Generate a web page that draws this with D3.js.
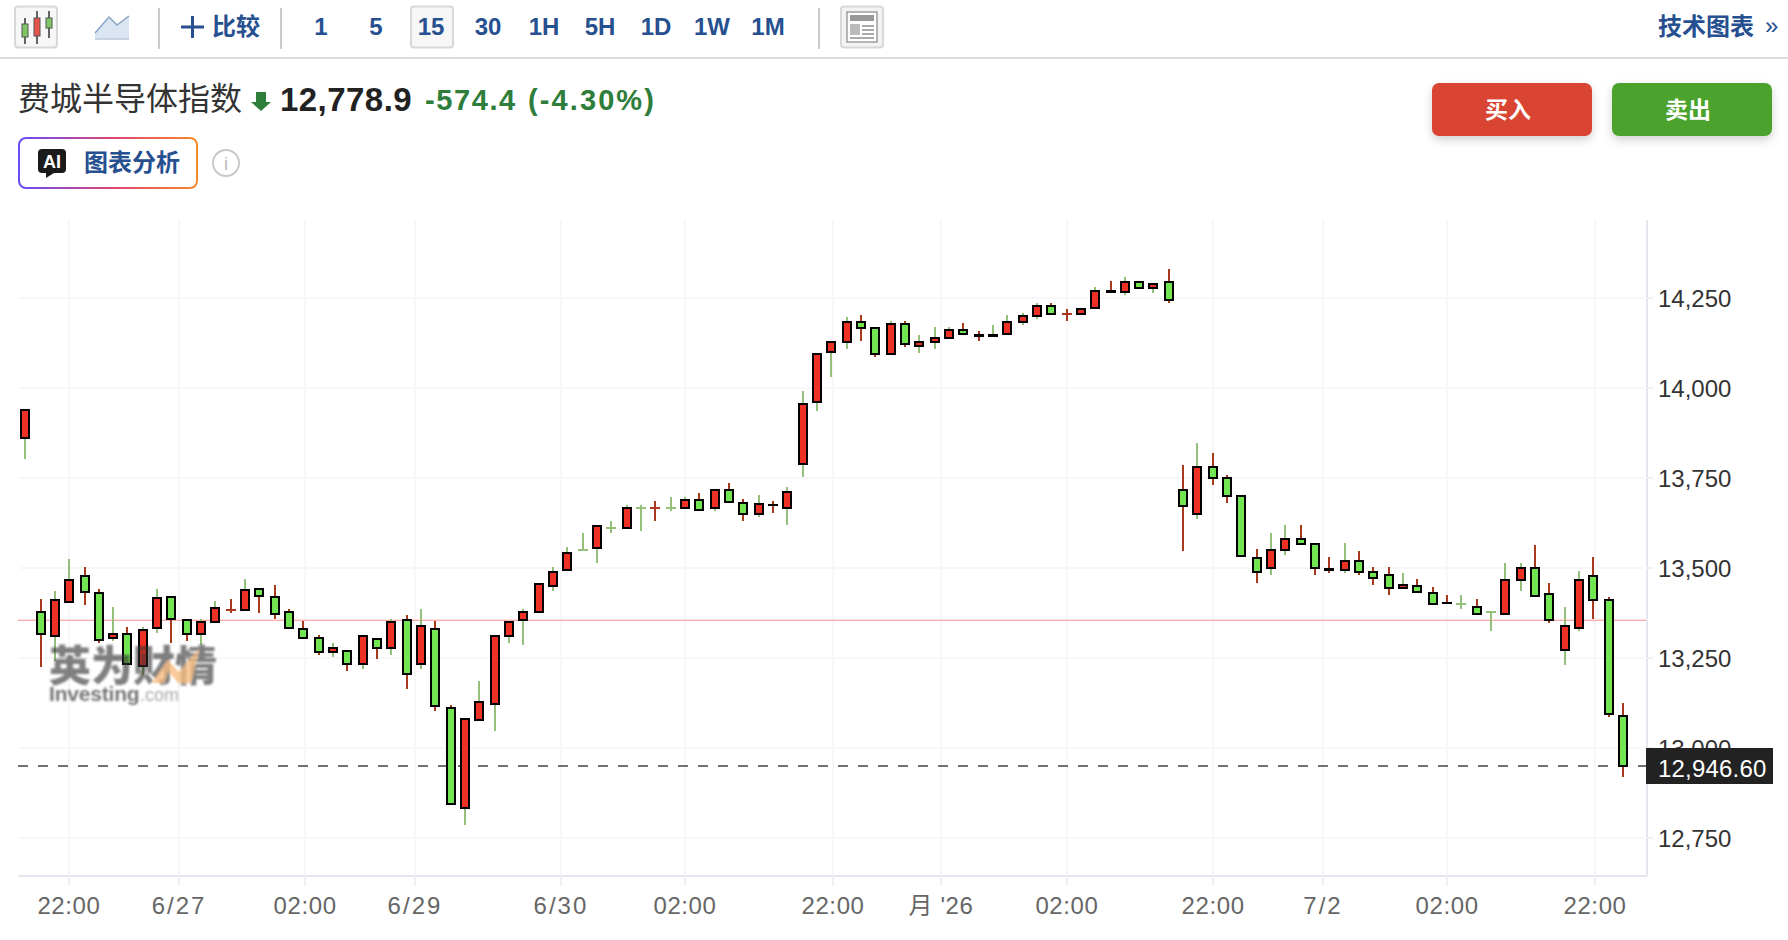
<!DOCTYPE html>
<html>
<head>
<meta charset="utf-8">
<title>费城半导体指数</title>
<script src="https://d3js.org/d3.v7.min.js"></script>
<style>
  html, body { margin: 0; padding: 0; background: #fff; }
  svg { display: block; }
  text { font-family: "Liberation Sans", "Noto Sans CJK SC", sans-serif; }
  .cjk { font-family: "Noto Sans CJK SC", sans-serif; }
  .axis path.domain { stroke: #e4e8ee; stroke-width: 2; }
  .axis .tick line { stroke: #eef0f3; stroke-width: 2; shape-rendering: crispEdges; }
  .grid line { stroke: #f7f7f7; stroke-width: 2; shape-rendering: crispEdges; }
  .grid path { display: none; }
</style>
</head>
<body>
<svg id="chart" width="1788" height="940"></svg>
<script>
// candles (red body = close above open, green = below)
var opens = [13861,13376,13311,13405,13476,13431,13305,13315,13227,13333,13420,13354,13317,13350,13382,13383,13442,13420,13376,13331,
  13304,13266,13270,13233,13303,13277,13354,13233,13331,13109,12833,13078,13122,13311,13355,13378,13450,13494,13549,13555,
  13610,13611,13666,13666,13666,13666,13687,13666,13715,13681,13650,13673,13666,13789,13961,14100,14128,14182,14165,14094,
  14176,14117,14128,14139,14159,14145,14145,14150,14183,14200,14226,14205,14206,14222,14267,14267,14293,14278,14293,13715,
  13650,13781,13748,13698,13526,13500,13550,13581,13565,13495,13494,13520,13487,13481,13444,13448,13431,13401,13399,13392,
  13377,13372,13467,13498,13426,13272,13333,13476,13409,13087];
var closes = [13937,13317,13409,13465,13433,13300,13315,13233,13326,13415,13357,13317,13348,13387,13382,13437,13422,13372,13333,13305,
  13266,13276,13233,13309,13277,13348,13205,13337,13117,12844,13081,13126,13309,13348,13376,13454,13487,13542,13549,13615,
  13610,13665,13666,13666,13666,13687,13661,13715,13683,13650,13676,13675,13709,13954,14093,14126,14182,14167,14094,14176,
  14122,14126,14137,14159,14150,14147,14147,14182,14198,14226,14206,14205,14220,14270,14269,14293,14278,14287,14244,13672,
  13781,13750,13700,13533,13489,13548,13581,13566,13500,13497,13520,13489,13472,13444,13453,13433,13400,13403,13399,13372,
  13377,13465,13498,13422,13356,13337,13465,13411,13094,12950];
var highs = [13937,13413,13435,13524,13502,13441,13391,13335,13335,13441,13420,13354,13357,13407,13413,13468,13442,13451,13385,13352,
  13313,13290,13270,13309,13303,13357,13368,13385,13352,13118,13081,13185,13309,13348,13385,13454,13502,13557,13596,13615,
  13629,13674,13674,13685,13696,13696,13707,13715,13735,13691,13702,13685,13724,13991,14093,14126,14196,14202,14165,14185,
  14185,14146,14169,14169,14180,14157,14174,14202,14207,14235,14235,14219,14220,14280,14296,14307,14293,14287,14330,13785,
  13846,13818,13757,13698,13552,13596,13618,13618,13565,13529,13568,13546,13502,13502,13485,13468,13446,13424,13424,13413,
  13377,13513,13513,13563,13457,13391,13491,13530,13419,13124];
var lows = [13802,13224,13241,13405,13396,13291,13296,13230,13202,13318,13290,13296,13285,13350,13374,13383,13374,13357,13333,13305,
  13257,13251,13213,13218,13246,13257,13163,13218,13102,12844,12785,13078,13046,13290,13285,13378,13435,13494,13549,13513,
  13596,13611,13602,13629,13657,13666,13661,13657,13683,13629,13641,13652,13618,13752,13935,14030,14107,14130,14085,14094,
  14113,14096,14107,14139,14150,14130,14145,14150,14174,14191,14206,14185,14206,14222,14266,14257,14278,14263,14235,13546,
  13635,13729,13679,13533,13457,13479,13535,13566,13479,13485,13485,13479,13452,13424,13444,13433,13400,13401,13385,13372,
  13324,13372,13435,13422,13346,13230,13324,13357,13085,12919];
// wick colour comes separately from the body colour in this chart: 1 = red, 0 = green
var wickRed = [0,1,0,0,1,1,0,1,0,0,1,1,0,0,1,0,1,1,1,1,
  1,0,1,0,1,0,1,0,1,1,0,0,0,0,0,0,0,0,0,0,
  0,0,0,1,0,0,1,0,1,1,0,1,0,0,0,0,0,1,1,0,
  1,0,0,0,1,1,0,0,0,0,1,1,0,0,1,0,0,0,1,1,
  0,1,1,1,1,0,0,1,1,1,0,1,1,1,0,1,1,1,0,1,
  0,0,0,1,1,0,0,1,1,1];

var yTicks = [12750,13000,13250,13500,13750,14000,14250];
var xTickPos = [2.97,10.48,19.08,26.58,36.54,45,55.1,62.47,71.06,81.03,88.53,97,107.09];
var xTickLabels = ["22:00","6/27","02:00","6/29","6/30","02:00","22:00","月 '26","02:00","22:00","7/2","02:00","22:00"];
var prevClose = 13354;
var lastPrice = 12946.6;
var periods = ["1","5","15","30","1H","5H","1D","1W","1M"];
var periodX = [321,376,431,488,544,600,656,712,768];

var RED = "#ee3124", GREEN = "#72e650", WICK_RED = "#a8391f", WICK_GREEN = "#94c07b", BLUE = "#26508f";

var svg = d3.select("#chart");
var plotLeft = 18, plotRight = 1647, plotTop = 220, plotBottom = 876;

var x = d3.scaleLinear().domain([0, 109]).range([25.4, 1623]);
var y = d3.scaleLinear().domain([12750, 14250]).range([837.7, 297.7]);
// candle centres land on odd pixels in the reference
function cx(i) { return 2 * Math.round((x(i) - 1) / 2) + 1; }

// grid
svg.append("g").attr("class", "grid")
  .attr("transform", "translate(0," + plotBottom + ")")
  .call(d3.axisBottom(x).tickValues(xTickPos).tickSize(plotTop - plotBottom).tickFormat("").offset(0));
svg.append("g").attr("class", "grid")
  .attr("transform", "translate(" + (plotRight - 3) + ",0)")
  .call(d3.axisLeft(y).tickValues(yTicks).tickSize(plotRight - 3 - plotLeft - 2).tickFormat("").offset(0));

// price lines sit under the candles
svg.append("line").attr("x1", plotLeft).attr("x2", plotRight)
  .attr("y1", y(prevClose)).attr("y2", y(prevClose))
  .attr("stroke", "#ff8f8f").attr("stroke-width", 1.2);
svg.append("line").attr("x1", plotLeft).attr("x2", plotRight)
  .attr("y1", Math.floor(y(lastPrice))).attr("y2", Math.floor(y(lastPrice)))
  .attr("stroke", "#444").attr("stroke-width", 1.6).attr("stroke-dasharray", "10 10");

// candles
var candles = svg.append("g").selectAll("g").data(d3.range(opens.length)).enter().append("g");
candles.append("line")
  .attr("x1", cx)
  .attr("x2", cx)
  .attr("y1", function(i) { return y(highs[i]); })
  .attr("y2", function(i) { return y(lows[i]); })
  .attr("stroke", function(i) { return wickRed[i] ? WICK_RED : WICK_GREEN; })
  .attr("stroke-width", 2)
  .attr("shape-rendering", "crispEdges");
candles.append("rect")
  .attr("x", function(i) { return cx(i) - (opens[i] == closes[i] ? 5 : 4); })
  .attr("width", function(i) { return opens[i] == closes[i] ? 10 : 8; })
  .attr("y", function(i) { return y(Math.max(opens[i], closes[i])) - (opens[i] == closes[i] ? 1 : 0); })
  .attr("height", function(i) { return opens[i] == closes[i] ? 2 : Math.abs(y(opens[i]) - y(closes[i])); })
  .attr("fill", function(i) {
    if (opens[i] == closes[i]) return wickRed[i] ? WICK_RED : WICK_GREEN;
    return closes[i] > opens[i] ? RED : GREEN;
  })
  .attr("stroke", function(i) { return opens[i] == closes[i] ? "none" : "#000"; })
  .attr("stroke-width", 2)
  .attr("shape-rendering", "crispEdges");

// watermark on top of the candles
var defs = svg.append("defs");
defs.append("filter").attr("id", "soft").append("feGaussianBlur").attr("stdDeviation", 0.9);
var mark = svg.append("g").attr("filter", "url(#soft)");
mark.append("text").attr("class", "cjk").attr("x", 49).attr("y", 681)
  .attr("font-size", 42).attr("font-weight", 900).attr("fill", "#333").attr("opacity", 0.62)
  .text("英为财情");
mark.append("path").attr("d", "M152 683L168 660L179 672L199 649L191 683L178 683L168 671L164 683Z")
  .attr("fill", "#f7bd80").attr("opacity", 0.8);
mark.append("text").attr("x", 49).attr("y", 701).attr("font-size", 21).attr("font-weight", "bold")
  .attr("fill", "#333").attr("opacity", 0.68).attr("letter-spacing", -0.2).text("Investing");
mark.append("text").attr("x", 140).attr("y", 701).attr("font-size", 18)
  .attr("fill", "#333").attr("opacity", 0.42).text(".com");

// axes
var yAxis = svg.append("g").attr("class", "axis")
  .attr("transform", "translate(" + plotRight + ",0)")
  .call(d3.axisRight(y).tickValues(yTicks).tickSize(6).tickPadding(5).tickFormat(d3.format(",")).offset(0));
yAxis.select(".domain").attr("d", "M0," + plotTop + "V" + plotBottom);
yAxis.selectAll("text").attr("font-size", 24).attr("fill", "#333").attr("font-family", "'Liberation Sans'").attr("y", 2);

var xAxis = svg.append("g").attr("class", "axis")
  .attr("transform", "translate(0," + plotBottom + ")")
  .call(d3.axisBottom(x).tickValues(xTickPos).tickSize(10).tickPadding(11).offset(0)
    .tickFormat(function(d, i) { return xTickLabels[i]; }));
xAxis.select(".domain").attr("d", "M" + plotLeft + ",0H" + plotRight);
xAxis.selectAll("text").attr("font-size", 24).attr("fill", "#666")
  .attr("letter-spacing", function(d, i) { return xTickLabels[i].indexOf("/") >= 0 ? 2 : 0.6; })
  .attr("font-family", "'Liberation Sans','Noto Sans CJK SC'");

// last price tag
svg.append("rect").attr("x", 1646).attr("y", 748).attr("width", 127).attr("height", 36).attr("fill", "#222");
svg.append("text").attr("x", 1658).attr("y", y(lastPrice) + 10).attr("font-size", 24).attr("fill", "#fff")
  .attr("letter-spacing", 0.2).text(d3.format(",.2f")(lastPrice));

// toolbar
var bar = svg.append("g");
bar.append("line").attr("x1", 0).attr("x2", 1788).attr("y1", 58).attr("y2", 58).attr("stroke", "#dcdcdc").attr("stroke-width", 2);
[159, 281, 819].forEach(function(px) {
  bar.append("line").attr("x1", px).attr("x2", px).attr("y1", 8).attr("y2", 49).attr("stroke", "#c9c9c9").attr("stroke-width", 2);
});
function iconBox(px, w, fill) {
  bar.append("rect").attr("x", px).attr("y", 6.5).attr("width", w).attr("height", 41).attr("rx", 3)
    .attr("fill", fill).attr("stroke", "#d8d8d8").attr("stroke-width", 2);
}
iconBox(15, 42, "#f7f7f7");
iconBox(411, 42, "#f7f7f7");
iconBox(841, 42, "#f3f3f3");

// candle icon
[[25, 18, 44, 24, 37, "#7fc766"], [37, 11, 44, 18, 36, "#e8534a"], [49, 11, 38, 18, 28, "#7fc766"]].forEach(function(c) {
  bar.append("line").attr("x1", c[0]).attr("x2", c[0]).attr("y1", c[1]).attr("y2", c[2]).attr("stroke", "#333").attr("stroke-width", 1.5);
  bar.append("rect").attr("x", c[0] - 3).attr("y", c[3]).attr("width", 6).attr("height", c[4] - c[3])
    .attr("fill", c[5]).attr("stroke", "#555").attr("stroke-width", 1);
});
// area icon
bar.append("path").attr("d", "M95 33L109 17L117 25L129 16V39H95Z").attr("fill", "#dbe5f1");
bar.append("path").attr("d", "M95 33L109 17L117 25L129 16").attr("fill", "none").attr("stroke", "#8aa6c8").attr("stroke-width", 1.5);
bar.append("line").attr("x1", 95).attr("x2", 129).attr("y1", 39).attr("y2", 39).attr("stroke", "#b9c8da").attr("stroke-width", 1.5);
// layout icon
bar.append("rect").attr("x", 847).attr("y", 12).attr("width", 30).attr("height", 30).attr("fill", "#fff").attr("stroke", "#888").attr("stroke-width", 1.2);
bar.append("rect").attr("x", 850).attr("y", 15).attr("width", 24).attr("height", 6).attr("fill", "#999");
bar.append("rect").attr("x", 850).attr("y", 24).attr("width", 10).attr("height", 11).attr("fill", "#bbb");
[25, 29, 33].forEach(function(py) {
  bar.append("rect").attr("x", 862).attr("y", py).attr("width", 12).attr("height", 2).attr("fill", "#aaa");
});
bar.append("rect").attr("x", 850).attr("y", 37).attr("width", 24).attr("height", 2).attr("fill", "#aaa");

bar.append("path").attr("d", "M181 27H204M192.5 16V38").attr("stroke", BLUE).attr("stroke-width", 3).attr("fill", "none");
bar.append("text").attr("class", "cjk").attr("x", 212).attr("y", 35).attr("font-size", 24).attr("font-weight", 700).attr("fill", BLUE).text("比较");
bar.selectAll(".period").data(periods).enter().append("text")
  .attr("class", "period")
  .attr("x", function(d, i) { return periodX[i]; }).attr("y", 35)
  .attr("text-anchor", "middle").attr("font-size", 24).attr("font-weight", "bold").attr("fill", BLUE)
  .text(function(d) { return d; });
bar.append("text").attr("class", "cjk").attr("x", 1658).attr("y", 35).attr("font-size", 24).attr("font-weight", 700).attr("fill", BLUE).text("技术图表");
bar.append("text").attr("x", 1765).attr("y", 34).attr("font-size", 24).attr("fill", BLUE).text("»");

// title row
var head = svg.append("g");
head.append("text").attr("class", "cjk").attr("x", 18).attr("y", 110).attr("font-size", 32).attr("fill", "#333").text("费城半导体指数");
head.append("path").attr("d", "M256 92H266V102H271L261 111L251 102H256Z").attr("fill", "#2e7d3a");
head.append("text").attr("x", 280).attr("y", 111).attr("font-size", 33).attr("font-weight", "bold").attr("fill", "#222").attr("letter-spacing", 0.45).text("12,778.9");
head.append("text").attr("x", 425).attr("y", 110).attr("font-size", 29).attr("font-weight", "bold").attr("fill", "#2e7d3a").attr("letter-spacing", 1.6).text("-574.4");
head.append("text").attr("x", 528).attr("y", 110).attr("font-size", 29).attr("font-weight", "bold").attr("fill", "#2e7d3a").attr("letter-spacing", 2.1).text("(-4.30%)");

// AI button
var grad = defs.append("linearGradient").attr("id", "aiBorder").attr("x1", "0").attr("x2", "1").attr("y1", "0").attr("y2", "0");
grad.append("stop").attr("offset", "0").attr("stop-color", "#6a4cf5");
grad.append("stop").attr("offset", "0.55").attr("stop-color", "#e0476f");
grad.append("stop").attr("offset", "1").attr("stop-color", "#f58a2a");
head.append("rect").attr("x", 19).attr("y", 138).attr("width", 178).attr("height", 50).attr("rx", 7)
  .attr("fill", "#fff").attr("stroke", "url(#aiBorder)").attr("stroke-width", 2);
head.append("path").attr("d", "M42 149H62Q66 149 66 153V169Q66 173 62 173H54L46 178V173H42Q38 173 38 169V153Q38 149 42 149Z").attr("fill", "#1b1b1b");
head.append("text").attr("x", 52).attr("y", 168).attr("text-anchor", "middle").attr("font-size", 18).attr("font-weight", "bold").attr("fill", "#fff").text("AI");
head.append("text").attr("class", "cjk").attr("x", 84).attr("y", 171).attr("font-size", 24).attr("font-weight", 700).attr("fill", BLUE).text("图表分析");
head.append("circle").attr("cx", 226).attr("cy", 163).attr("r", 13).attr("fill", "none").attr("stroke", "#c8c8c8").attr("stroke-width", 2);
head.append("text").attr("x", 226).attr("y", 170).attr("text-anchor", "middle").attr("font-size", 18).attr("fill", "#bbb").text("i");

// buy / sell
var shadow = defs.append("filter").attr("id", "btnShadow").attr("x", "-20%").attr("y", "-30%").attr("width", "140%").attr("height", "170%");
shadow.append("feDropShadow").attr("dx", 0).attr("dy", 4).attr("stdDeviation", 5).attr("flood-opacity", 0.18);
[[1432, "#d94532", "买入"], [1612, "#4ba32d", "卖出"]].forEach(function(b) {
  head.append("rect").attr("x", b[0]).attr("y", 83).attr("width", 160).attr("height", 53).attr("rx", 7)
    .attr("fill", b[1]).attr("filter", "url(#btnShadow)");
  head.append("text").attr("class", "cjk").attr("x", b[0] + 76).attr("y", 118).attr("text-anchor", "middle")
    .attr("font-size", 23).attr("font-weight", 700).attr("fill", "#fff").text(b[2]);
});
</script>
</body>
</html>
